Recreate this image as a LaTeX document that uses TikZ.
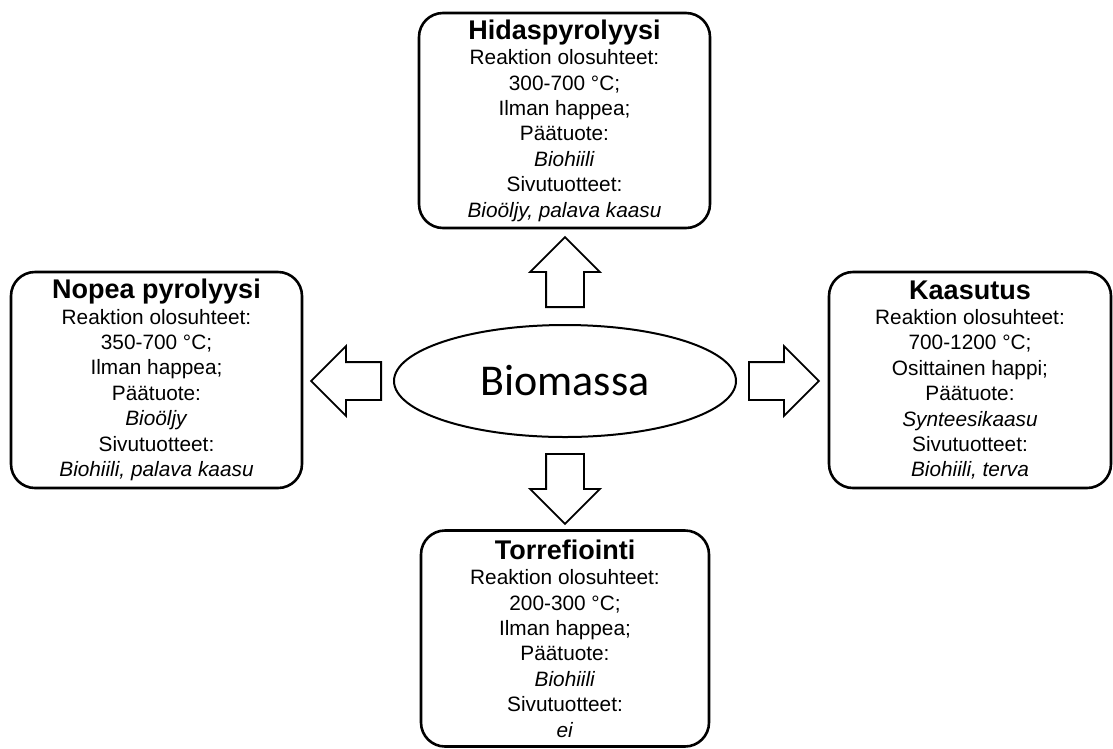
\documentclass[tikz,border=0pt]{standalone}
\usepackage{fontspec}
\setmainfont{Liberation Sans}
\newfontfamily\calibrifont{Carlito}
\usetikzlibrary{shapes.geometric,shapes.arrows,calc}
\tikzset{
  procbox/.style={draw, line width=2.6pt, rounded corners=24pt, align=center,
    inner sep=0pt, font=\fontsize{20.8}{25.4}\selectfont},
  blockarrow/.style={draw, line width=1.8pt, single arrow, single arrow head extend=16pt,
    minimum height=70pt, inner sep=18pt, anchor=tail},
}
\newcommand{\proctitle}[1]{{\fontsize{27}{25.4}\selectfont\bfseries #1}}

\begin{document}
\begin{tikzpicture}[x=1pt,y=-1pt]
    \useasboundingbox (0,0) rectangle (1113,748);
    \node[ellipse, draw, line width=2pt, minimum width=342pt, minimum height=112pt, inner sep=0pt,
        font=\calibrifont\fontsize{44}{44}\selectfont] (bio) at (565,381) {Biomassa};
    \node[procbox, minimum width=291pt, minimum height=215pt] (hidas) at (564.5,120.5)
        {\proctitle{Hidaspyrolyysi}\\ Reaktion olosuhteet:\\ 300-700 °C;\\ Ilman happea;\\
         Päätuote:\\ \textit{Biohiili}\\ Sivutuotteet:\\ \textit{Bioöljy, palava kaasu}};
    \node[procbox, minimum width=291pt, minimum height=216pt] (nopea) at (156.5,380)
        {\proctitle{Nopea pyrolyysi}\\ Reaktion olosuhteet:\\ 350-700 °C;\\ Ilman happea;\\
         Päätuote:\\ \textit{Bioöljy}\\ Sivutuotteet:\\ \textit{Biohiili, palava kaasu}};
    \node[procbox, minimum width=282pt, minimum height=216pt] (kaasu) at (970,380)
        {\proctitle{Kaasutus}\\ Reaktion olosuhteet:\\ 700-1200 °C;\\ Osittainen happi;\\
         Päätuote:\\ \textit{Synteesikaasu}\\ Sivutuotteet:\\ \textit{Biohiili, terva}};
    \node[procbox, minimum width=288pt, minimum height=216pt] (torre) at (565,638.5)
        {\proctitle{Torrefiointi}\\ Reaktion olosuhteet:\\ 200-300 °C;\\ Ilman happea;\\
         Päätuote:\\ \textit{Biohiili}\\ Sivutuotteet:\\ \textit{ei}};
    % block arrows from the biomass
    \node[blockarrow, shape border rotate=90] (up) at ($(bio.north)+(0,-16)$) {};
    \node[blockarrow, shape border rotate=180] (left) at ($(bio.west)+(-11,0)$) {};
    \node[blockarrow] (right) at ($(bio.east)+(11,0)$) {};
    \node[blockarrow, shape border rotate=270] (down) at ($(bio.south)+(0,15)$) {};
\end{tikzpicture}
\end{document}
